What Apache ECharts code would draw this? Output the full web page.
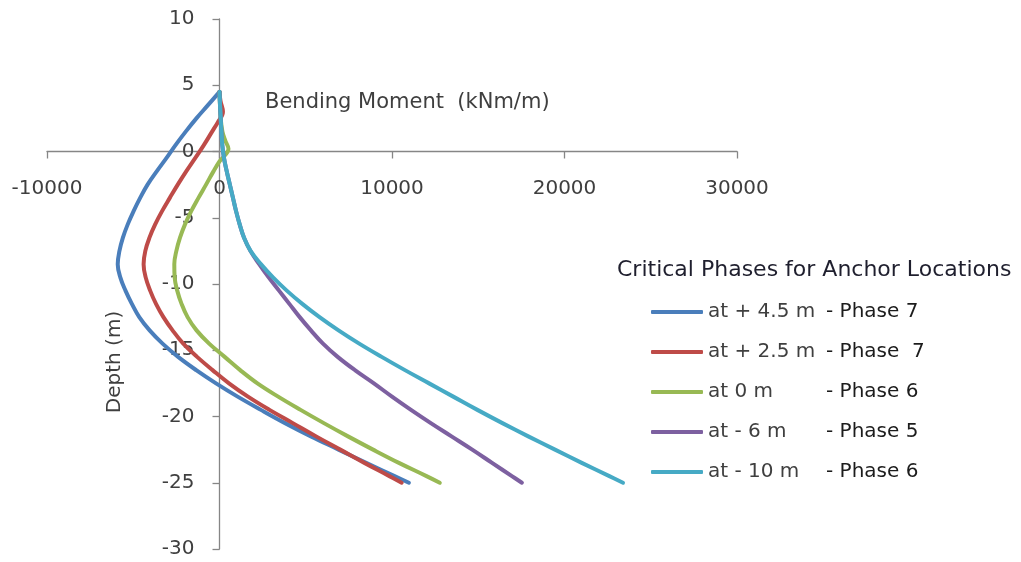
<!DOCTYPE html>
<html>
<head>
<meta charset="utf-8">
<script src="https://cdn.jsdelivr.net/npm/echarts@6/dist/echarts.min.js"></script>
<style>
  html, body { margin: 0; padding: 0; background: #fff; }
  #chart { width: 1021px; height: 562px; }
</style>
</head>
<body>
<div id="chart"></div>
<script>
// Bending moment envelopes (kNm/m) against depth (m) for each anchor level
const seriesNames = ['at + 4.5 m', 'at + 2.5 m', 'at 0 m', 'at - 6 m', 'at - 10 m'];
const phaseLabels = ['- Phase 7', '- Phase  7', '- Phase 6', '- Phase 5', '- Phase 6'];
const seriesColors = ['#4A7EBB', '#BE4B48', '#98B954', '#7D60A0', '#46AAC5'];

// depth below / above the reference level, metres (1 m steps below the anchors)
const depthSteps = [4.5, 3.5, 2.5, 1.5, 0.5, -0.5, -1.5, -2.5, -3.5, -4.5, -5.5, -6.5, -7.5, -8.5, -9.5,
  -10.5, -11.5, -12.5, -13.5, -14.5, -15.5, -16.5, -17.5, -18.5, -19.5, -20.5, -21.5, -22.5, -23.5, -24.5, -25];

const momentAnchor45 = [0, -670, -1340, -1960, -2540, -3080, -3640, -4170, -4600, -4980, -5320, -5600, -5800, -5900, -5750,
  -5450, -5080, -4650, -4050, -3300, -2400, -1350, -200, 1050, 2400, 3800, 5300, 6900, 8500, 10150, 10980];

const depthAnchor25 = [4.5, 3.8, 3.0, 2.2, 1.5, 0.5, -0.5, -1.5, -2.5, -3.5, -4.5, -5.5, -6.5, -7.5, -8.5, -9.5,
  -10.5, -11.5, -12.5, -13.5, -14.5, -15.5, -16.5, -17.5, -18.5, -19.5, -20.5, -21.5, -22.5, -23.5, -24.5, -25];
const momentAnchor25 = [0, 60, 200, -100, -430, -900, -1410, -1930, -2420, -2880, -3330, -3730, -4060, -4300, -4400, -4280,
  -4020, -3680, -3250, -2720, -2100, -1300, -400, 550, 1650, 2900, 4250, 5600, 7000, 8400, 9850, 10560];

const depthAnchor0 = [4.5, 3.5, 2.5, 1.5, 0.8, 0.2, -0.75, -1.5, -2.5, -3.5, -4.5, -5.5, -6.5, -7.5, -8.5, -9.5,
  -10.5, -11.5, -12.5, -13.5, -14.5, -15.5, -16.5, -17.5, -18.5, -19.5, -20.5, -21.5, -22.5, -23.5, -24.5, -25];
const momentAnchor0 = [0, 30, 70, 170, 340, 520, 0, -350, -780, -1220, -1640, -2000, -2290, -2500, -2620, -2600,
  -2450, -2200, -1850, -1330, -600, 300, 1200, 2200, 3400, 4700, 6050, 7450, 8900, 10400, 12000, 12770];

const momentAnchorM6 = [0, 30, 70, 110, 160, 260, 420, 600, 780, 960, 1170, 1420, 1790, 2300, 2850,
  3450, 4050, 4650, 5300, 6000, 6850, 7850, 8950, 10000, 11100, 12250, 13450, 14650, 15800, 16950, 17530];

const momentAnchorM10 = [0, 30, 70, 110, 160, 260, 420, 600, 780, 960, 1170, 1420, 1800, 2400, 3100,
  3900, 4800, 5800, 6900, 8100, 9400, 10750, 12150, 13550, 14950, 16400, 17900, 19450, 21000, 22600, 23390];

const xTicks = { min: -10000, max: 30000, interval: 10000 };
const yTicks = { min: -30, max: 10, interval: 5 };

const depthSets = [depthSteps, depthAnchor25, depthAnchor0, depthSteps, depthSteps];
const momentSets = [momentAnchor45, momentAnchor25, momentAnchor0, momentAnchorM6, momentAnchorM10];

const FONT = 'DejaVu Sans';
const TEXT = '#3f3f3f';
const AXIS = '#868686';

// plot area in pixels; the axes cross at (0, 0) inside it
const GRID = { left: 47, right: 284, top: 19, bottom: 13 };
const PLOT_W = 1021 - GRID.left - GRID.right;
const PLOT_H = 562 - GRID.top - GRID.bottom;
const xZeroShift = PLOT_W * (0 - xTicks.min) / (xTicks.max - xTicks.min);
const yZeroShift = PLOT_H * (0 - yTicks.min) / (yTicks.max - yTicks.min);

const chart = echarts.init(document.getElementById('chart'), null, { renderer: 'canvas' });

const series = seriesNames.map((name, i) => ({
  name,
  type: 'line',
  data: momentSets[i].map((m, k) => [m, depthSets[i][k]]),
  smooth: 0.4,
  showSymbol: false,
  symbol: 'none',
  lineStyle: { color: seriesColors[i], width: 4, cap: 'round', join: 'round' },
  itemStyle: { color: seriesColors[i] },
  z: 2 + i
}));

chart.setOption({
  animation: false,
  backgroundColor: '#ffffff',
  grid: Object.assign({ containLabel: false, outerBoundsMode: 'none' }, GRID),
  xAxis: {
    type: 'value',
    position: 'bottom',
    offset: -yZeroShift,
    min: xTicks.min, max: xTicks.max, interval: xTicks.interval,
    axisLine: { onZero: false, lineStyle: { color: AXIS, width: 1.3 } },
    axisTick: { show: true, length: 7, inside: false, lineStyle: { color: AXIS, width: 1.3 } },
    axisLabel: { color: TEXT, fontFamily: FONT, fontSize: 20, margin: 27, formatter: v => String(v) },
    splitLine: { show: false }
  },
  yAxis: {
    type: 'value',
    position: 'left',
    offset: -xZeroShift,
    min: yTicks.min, max: yTicks.max, interval: yTicks.interval,
    axisLine: { show: true, onZero: false, lineStyle: { color: AXIS, width: 1.3 } },
    axisTick: { show: true, length: 7, inside: false, lineStyle: { color: AXIS, width: 1.3 } },
    axisLabel: { color: TEXT, fontFamily: FONT, fontSize: 20, margin: 25, formatter: v => String(v) },
    splitLine: { show: false }
  },
  legend: {
    orient: 'vertical',
    left: 651,
    top: 301,
    padding: 0,
    itemWidth: 52,
    itemHeight: 4,
    itemGap: 18,
    icon: 'roundRect',
    data: seriesNames,
    formatter: name => {
      const i = seriesNames.indexOf(name);
      return '{a|' + name + '}{b|' + phaseLabels[i] + '}';
    },
    textStyle: {
      fontFamily: FONT,
      fontSize: 20,
      lineHeight: 22,
      rich: {
        a: { color: TEXT, fontFamily: FONT, fontSize: 20, width: 118, lineHeight: 22 },
        b: { color: '#1c1c1c', fontFamily: FONT, fontSize: 20, lineHeight: 22 }
      }
    }
  },
  graphic: [
    {
      type: 'text', x: 265, y: 103,
      style: { text: 'Bending Moment  (kNm/m)', fill: TEXT, font: '21px "DejaVu Sans"', align: 'left', verticalAlign: 'middle' }
    },
    {
      type: 'text', x: 115, y: 362, rotation: Math.PI / 2,
      style: { text: 'Depth (m)', fill: TEXT, font: '20px "DejaVu Sans"', align: 'center', verticalAlign: 'middle' }
    },
    {
      type: 'text', x: 617, y: 270,
      style: { text: 'Critical Phases for Anchor Locations', fill: '#1f1f2e', font: '22px "DejaVu Sans"', align: 'left', verticalAlign: 'middle' }
    }
  ],
  series
});
</script>
</body>
</html>
